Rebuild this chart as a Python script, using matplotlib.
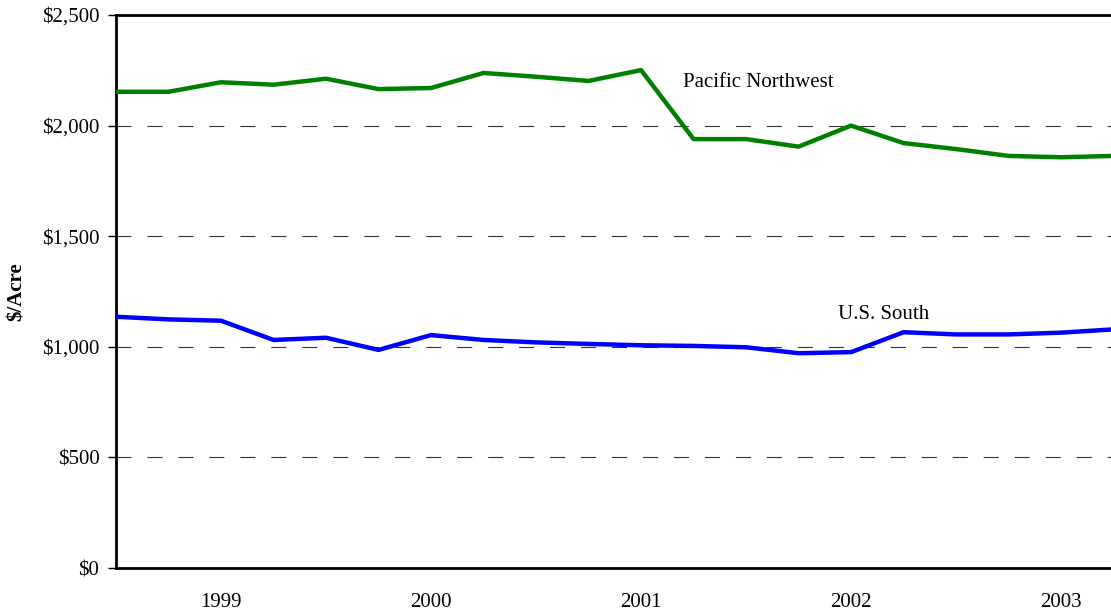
import matplotlib.pyplot as plt
import numpy as np

# quarterly timberland values, $/acre
quarters = np.arange(20)
pnw = [2153, 2153, 2196, 2185, 2212, 2165, 2170, 2238, 2221, 2202,
       2251, 1939, 1939, 1905, 2000, 1921, 1894, 1863, 1857, 1863]
south = [1136, 1124, 1118, 1031, 1041, 986, 1053, 1031, 1020, 1013,
         1007, 1004, 998, 971, 976, 1066, 1056, 1056, 1064, 1079]

year_pos = [2, 6, 10, 14, 18]
year_labels = ["1999", "2000", "2001", "2002", "2003"]
y_ticks = [0, 500, 1000, 1500, 2000, 2500]

plt.rcParams['font.family'] = ['Liberation Serif', 'DejaVu Serif']
plt.rcParams['lines.scale_dashes'] = False

fig = plt.figure(figsize=(11.11, 6.13), dpi=100)
ax = fig.add_axes([0.1044, 0.0734, 0.8956, 0.9021])

ax.plot(quarters, pnw, color="#008000", lw=3.2, zorder=3)
ax.plot(quarters, south, color="#0000ff", lw=3.2, zorder=3)

for v in y_ticks[1:-1]:
    ax.axhline(v, color="#333333", lw=0.8, ls=(0, (10.8, 11.5)), zorder=1)

ax.set_xlim(0, 18.95)
ax.set_ylim(0, 2500)

ax.set_yticks(y_ticks)
ax.set_yticklabels(["${:,}".format(v) for v in y_ticks])
ax.set_xticks(year_pos)
ax.set_xticklabels(year_labels)
ax.tick_params(axis='y', length=6, width=1, direction='out', pad=6, labelsize=15)
ax.tick_params(axis='x', length=0, pad=18, labelsize=15)

ax.set_ylabel("$/Acre", fontsize=15, fontweight='bold')
ax.yaxis.set_label_coords(-0.09, 0.5)

for s in ['left', 'bottom', 'top']:
    ax.spines[s].set_linewidth(2)
ax.spines['right'].set_visible(False)

ax.text(10.8, 2197, "Pacific Northwest", fontsize=15, va='center', ha='left')
ax.text(13.75, 1148, "U.S. South", fontsize=15, va='center', ha='left')

fig.savefig("out.png", dpi=100)
